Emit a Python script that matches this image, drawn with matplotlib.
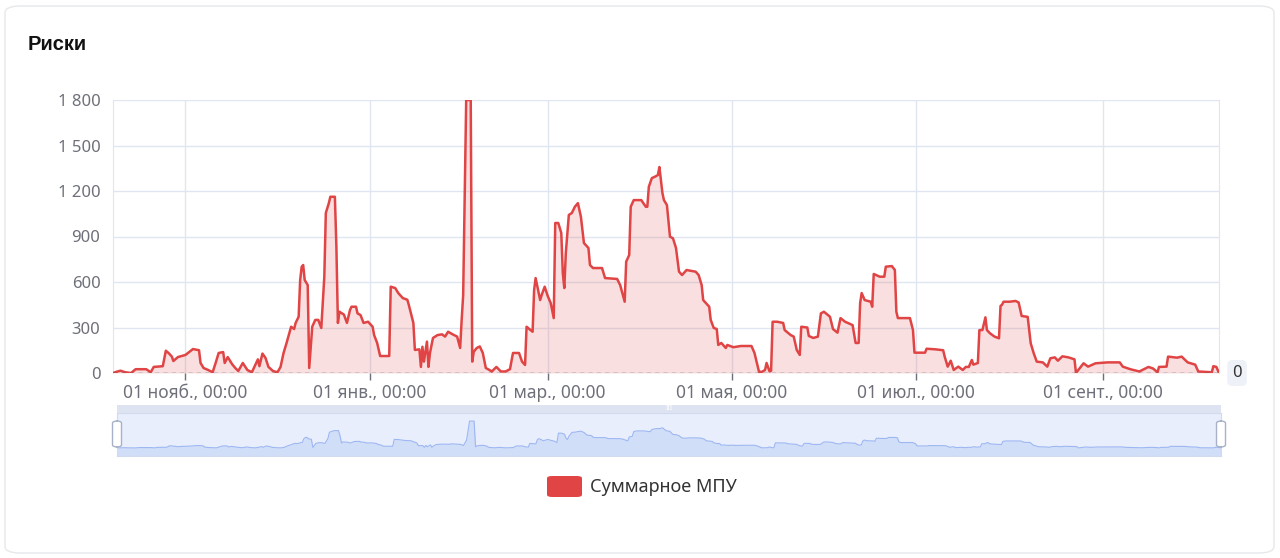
import numpy as np
import pandas as pd
import matplotlib
matplotlib.use('Agg')
import matplotlib.pyplot as plt
import matplotlib.dates as mdates
from matplotlib.patches import FancyBboxPatch
from matplotlib.ticker import FuncFormatter, MultipleLocator

plt.rcParams['font.family'] = ['Noto Sans', 'DejaVu Sans']

# --- data ---
dates = [
    '2024-10-08', '2024-10-09 12:00', '2024-10-10 12:00', '2024-10-12', '2024-10-14',
    '2024-10-15 12:00', '2024-10-19', '2024-10-20 12:00', '2024-10-21 12:00', '2024-10-24 12:00',
    '2024-10-25 12:00', '2024-10-26 12:00', '2024-10-27 12:00', '2024-10-28', '2024-10-29 12:00',
    '2024-11-01', '2024-11-03 12:00', '2024-11-05 12:00', '2024-11-06', '2024-11-07',
    '2024-11-08 12:00', '2024-11-10', '2024-11-11', '2024-11-12', '2024-11-13 12:00',
    '2024-11-14', '2024-11-15', '2024-11-16 12:00', '2024-11-17 12:00', '2024-11-18 12:00',
    '2024-11-20', '2024-11-21 12:00', '2024-11-23', '2024-11-25', '2024-11-25 12:00',
    '2024-11-26 12:00', '2024-11-27 12:00', '2024-11-28 12:00', '2024-11-30', '2024-12-01 12:00',
    '2024-12-02 12:00', '2024-12-03 12:00', '2024-12-04 12:00', '2024-12-06', '2024-12-07',
    '2024-12-07 12:00', '2024-12-08 12:00', '2024-12-09', '2024-12-09 12:00', '2024-12-10',
    '2024-12-10 12:00', '2024-12-11 12:00', '2024-12-12', '2024-12-13', '2024-12-14',
    '2024-12-15', '2024-12-16', '2024-12-17', '2024-12-17 12:00', '2024-12-18 12:00',
    '2024-12-19', '2024-12-20 12:00', '2024-12-21', '2024-12-21 12:00', '2024-12-22',
    '2024-12-23 12:00', '2024-12-24 12:00', '2024-12-25 12:00', '2024-12-26', '2024-12-27 12:00',
    '2024-12-28', '2024-12-29', '2024-12-30', '2024-12-31 12:00', '2025-01-02',
    '2025-01-02 12:00', '2025-01-03 12:00', '2025-01-04 12:00', '2025-01-07 12:00', '2025-01-08',
    '2025-01-09 12:00', '2025-01-10 12:00', '2025-01-12', '2025-01-13 12:00', '2025-01-14',
    '2025-01-15', '2025-01-15 12:00', '2025-01-16', '2025-01-17 12:00', '2025-01-18',
    '2025-01-18 12:00', '2025-01-19', '2025-01-20', '2025-01-20 12:00', '2025-01-21',
    '2025-01-22', '2025-01-23 12:00', '2025-01-25', '2025-01-26', '2025-01-27',
    '2025-01-28 12:00', '2025-01-30', '2025-01-31', '2025-01-31 12:00', '2025-02-01',
    '2025-02-02', '2025-02-03 12:00', '2025-02-04', '2025-02-04 12:00', '2025-02-05 12:00',
    '2025-02-06 12:00', '2025-02-07 12:00', '2025-02-08 12:00', '2025-02-09 12:00', '2025-02-10 12:00',
    '2025-02-12', '2025-02-13 12:00', '2025-02-15', '2025-02-16 12:00', '2025-02-17 12:00',
    '2025-02-19 12:00', '2025-02-20 12:00', '2025-02-21 12:00', '2025-02-22', '2025-02-24',
    '2025-02-24 12:00', '2025-02-25', '2025-02-26 12:00', '2025-02-27', '2025-02-28',
    '2025-03-01', '2025-03-02', '2025-03-03', '2025-03-03 12:00', '2025-03-04 12:00',
    '2025-03-05 12:00', '2025-03-06', '2025-03-06 12:00', '2025-03-07', '2025-03-08',
    '2025-03-09', '2025-03-10', '2025-03-11', '2025-03-12', '2025-03-13',
    '2025-03-14 12:00', '2025-03-15', '2025-03-16', '2025-03-19', '2025-03-20',
    '2025-03-24', '2025-03-25', '2025-03-26 12:00', '2025-03-27', '2025-03-28',
    '2025-03-28 12:00', '2025-03-29 12:00', '2025-04-01', '2025-04-02 12:00', '2025-04-03',
    '2025-04-03 12:00', '2025-04-04 12:00', '2025-04-05 12:00', '2025-04-06 12:00', '2025-04-07',
    '2025-04-08', '2025-04-08 12:00', '2025-04-09 12:00', '2025-04-10 12:00', '2025-04-11 12:00',
    '2025-04-12 12:00', '2025-04-13 12:00', '2025-04-14 12:00', '2025-04-16', '2025-04-19',
    '2025-04-20', '2025-04-21', '2025-04-21 12:00', '2025-04-23 12:00', '2025-04-24',
    '2025-04-25', '2025-04-26', '2025-04-26 12:00', '2025-04-27 12:00', '2025-04-29',
    '2025-04-29 12:00', '2025-05-01 12:00', '2025-05-04', '2025-05-07 12:00', '2025-05-08 12:00',
    '2025-05-10', '2025-05-11', '2025-05-12', '2025-05-12 12:00', '2025-05-13 12:00',
    '2025-05-14', '2025-05-14 12:00', '2025-05-16', '2025-05-18', '2025-05-18 12:00',
    '2025-05-20 12:00', '2025-05-21 12:00', '2025-05-22 12:00', '2025-05-23 12:00', '2025-05-24',
    '2025-05-26', '2025-05-26 12:00', '2025-05-28', '2025-05-29 12:00', '2025-05-30 12:00',
    '2025-05-31 12:00', '2025-06-02 12:00', '2025-06-03 12:00', '2025-06-05', '2025-06-06',
    '2025-06-07 12:00', '2025-06-10', '2025-06-11', '2025-06-12', '2025-06-12 12:00',
    '2025-06-13', '2025-06-14', '2025-06-16', '2025-06-16 12:00', '2025-06-17',
    '2025-06-19', '2025-06-20 12:00', '2025-06-21', '2025-06-23', '2025-06-24',
    '2025-06-24 12:00', '2025-06-25', '2025-06-29', '2025-06-30', '2025-06-30 12:00',
    '2025-07-04', '2025-07-04 12:00', '2025-07-07 12:00', '2025-07-10', '2025-07-10 12:00',
    '2025-07-11 12:00', '2025-07-12 12:00', '2025-07-13 12:00', '2025-07-15', '2025-07-16 12:00',
    '2025-07-17 12:00', '2025-07-18 12:00', '2025-07-19 12:00', '2025-07-20', '2025-07-21 12:00',
    '2025-07-22', '2025-07-23', '2025-07-24', '2025-07-24 12:00', '2025-07-25 12:00',
    '2025-07-27', '2025-07-28 12:00', '2025-07-29', '2025-07-29 12:00', '2025-07-30',
    '2025-08-01', '2025-08-03', '2025-08-04', '2025-08-05', '2025-08-07',
    '2025-08-08', '2025-08-09', '2025-08-10', '2025-08-12', '2025-08-13 12:00',
    '2025-08-14 12:00', '2025-08-16', '2025-08-17', '2025-08-18 12:00', '2025-08-20 12:00',
    '2025-08-22 12:00', '2025-08-23', '2025-08-25 12:00', '2025-08-27', '2025-08-29 12:00',
    '2025-09-02 12:00', '2025-09-06 12:00', '2025-09-07 12:00', '2025-09-10', '2025-09-13',
    '2025-09-16', '2025-09-17 12:00', '2025-09-19', '2025-09-19 12:00', '2025-09-22',
    '2025-09-22 12:00', '2025-09-25 12:00', '2025-09-27', '2025-09-29', '2025-10-01 12:00',
    '2025-10-02 12:00', '2025-10-07', '2025-10-07 12:00', '2025-10-08 12:00', '2025-10-09 09:00',
]
mpu = [
    0, 10, 15, 5, 0,
    25, 25, 5, 40, 45,
    147, 130, 108, 79, 105,
    119, 158, 150, 66, 33,
    20, 5, 66, 132, 138,
    66, 105, 57, 33, 13,
    66, 20, 5, 90, 45,
    128, 100, 40, 13, 5,
    40, 132, 198, 305, 290,
    330, 371, 613, 700, 712,
    613, 580, 33, 305, 350,
    350, 297, 635, 1055, 1120,
    1162, 1162, 833, 330, 404,
    385, 330, 415, 437, 437,
    393, 382, 330, 338, 305,
    250, 198, 112, 112, 569,
    560, 527, 494, 483, 448,
    371, 330, 152, 156, 40,
    173, 75, 207, 40, 132,
    231, 250, 255, 240, 272,
    255, 240, 165, 350, 514,
    1800, 1800, 75, 140, 165,
    175, 132, 33, 22, 10,
    40, 10, 10, 25, 132,
    132, 75, 53, 305, 272,
    547, 626, 481, 514, 569,
    508, 461, 362, 989, 989,
    923, 659, 560, 791, 1042,
    1055, 1096, 1120, 1030, 857,
    824, 712, 692, 692, 626,
    620, 580, 470, 734, 778,
    1096, 1140, 1140, 1096, 1096,
    1228, 1285, 1294, 1305, 1358,
    1187, 1140, 1107, 899, 888,
    824, 668, 646, 679, 668,
    646, 580, 481, 437, 350,
    297, 290, 185, 198, 165,
    185, 170, 178, 178, 132,
    8, 8, 20, 66, 10,
    15, 338, 338, 330, 283,
    250, 240, 152, 119, 305,
    300, 244, 231, 240, 393,
    404, 371, 290, 266, 362,
    338, 316, 198, 198, 461,
    527, 481, 470, 437, 653,
    635, 635, 701, 705, 679,
    404, 362, 362, 283, 134,
    134, 160, 156, 150, 108,
    42, 81, 20, 42, 20,
    40, 40, 86, 55, 66,
    283, 283, 367, 283, 262,
    240, 229, 442, 450, 470,
    470, 475, 465, 376, 370,
    196, 130, 75, 70, 42,
    97, 103, 81, 110, 103,
    90, 0, 64, 42, 64,
    70, 70, 42, 25, 10,
    40, 30, 5, 40, 42,
    108, 101, 108, 70, 55,
    10, 5, 45, 40, 0,
]
title = 'Риски'
series_name = 'Суммарное МПУ'
month_ru = {1: 'янв.', 2: 'февр.', 3: 'мар.', 4: 'апр.', 5: 'мая', 6: 'июн.',
            7: 'июл.', 8: 'авг.', 9: 'сент.', 10: 'окт.', 11: 'нояб.', 12: 'дек.'}

x = pd.to_datetime(dates, format='mixed')
y = np.array(mpu, dtype=float)

red = '#e04444'
grid_c = '#e0e6f1'
label_c = '#6e7079'

fig = plt.figure(figsize=(12.8, 5.58), dpi=100)
fig.patch.set_facecolor('white')

# card border
card = FancyBboxPatch((5 / 1280, 5 / 558), 1269 / 1280, 547 / 558,
                      boxstyle='round,pad=0,rounding_size=0.012',
                      transform=fig.transFigure, facecolor='none',
                      edgecolor='#e6e8ec', linewidth=1.0, zorder=-5)
fig.patches.append(card)
fig.text(28 / 1280, 1 - 45 / 558, title, fontsize=14.5, fontweight='bold',
         family=['Liberation Sans', 'DejaVu Sans'], color='#111111', va='center')

# main axes
ax = fig.add_axes([113 / 1280, 1 - 373 / 558, 1106 / 1280, 273 / 558])
ax.plot(x, y, color=red, lw=1.8, zorder=3)
ax.fill_between(x, y, 0, color=red, alpha=0.17, lw=0, zorder=2)
ax.set_xlim(x[0], x[-1])
ax.set_ylim(0, 1800)
ax.yaxis.set_major_locator(MultipleLocator(300))
ax.yaxis.set_major_formatter(FuncFormatter(lambda v, p: f'{int(v):,}'.replace(',', ' ')))
ax.xaxis.set_major_locator(mdates.MonthLocator(bymonth=[1, 3, 5, 7, 9, 11]))
ax.xaxis.set_major_formatter(FuncFormatter(
    lambda v, p: (lambda d: f'{d.day:02d} {month_ru[d.month]}, {d:%H:%M}')(mdates.num2date(v))))
ax.grid(True, color=grid_c, lw=1)
ax.set_axisbelow(True)
for s in ['top', 'bottom']:
    ax.spines[s].set_visible(False)
for s in ['left', 'right']:
    ax.spines[s].set_color(grid_c)
ax.axhline(0, color='#555a66', lw=1, ls=(0, (3, 3)), zorder=4)
ax.tick_params(axis='y', length=0, pad=9, labelsize=12, labelcolor=label_c)
ax.tick_params(axis='x', length=5, width=1, color='#6e7079', pad=3, labelsize=12.5, labelcolor=label_c)

# end label
ax.annotate(f'{y[-1]:.0f}', xy=(1.0, 0), xycoords=('axes fraction', 'data'),
            xytext=(13, 0), textcoords='offset points', ha='center', va='center',
            fontsize=12, color='#333333',
            bbox=dict(boxstyle='round,pad=0.3,rounding_size=0.3', fc='#eef2f8', ec='none'))

# data zoom slider
sl = fig.add_axes([117 / 1280, 1 - 456 / 558, 1104 / 1280, 43 / 558])
sl.set_facecolor('#e8eefc')
lo, hi = y.min(), y.max()
off = (hi - lo) * 0.3
sl.plot(x, y, color='#9db7f3', lw=0.8)
sl.fill_between(x, y, lo - off, color='#ccdaf8', lw=0, alpha=0.8)
sl.set_xlim(x[0], x[-1])
sl.set_ylim(lo - off, hi + off)
sl.set_xticks([])
sl.set_yticks([])
for s in sl.spines.values():
    s.set_color('#d2dbee')
topbar = fig.add_axes([117 / 1280, 1 - 413 / 558, 1104 / 1280, 8 / 558])
topbar.set_facecolor('#dde3f1')
topbar.set_xticks([])
topbar.set_yticks([])
for s in topbar.spines.values():
    s.set_visible(False)
topbar.text(0.5, 0.5, 'III', ha='center', va='center', fontsize=5, color='white',
            fontweight='bold', transform=topbar.transAxes)
for hx in (117, 1221):
    h = FancyBboxPatch(((hx - 4.5) / 1280, 1 - 447 / 558), 9 / 1280, 26 / 558,
                       boxstyle='round,pad=0,rounding_size=0.004',
                       transform=fig.transFigure, facecolor='white',
                       edgecolor='#a7b2c8', linewidth=1.0, zorder=10)
    fig.patches.append(h)

# legend
lg = FancyBboxPatch((547 / 1280, 1 - 497 / 558), 35 / 1280, 21 / 558,
                    boxstyle='round,pad=0,rounding_size=0.004',
                    transform=fig.transFigure, facecolor=red, edgecolor='none')
fig.patches.append(lg)
fig.text(590 / 1280, 1 - 487 / 558, series_name, fontsize=13, color='#333333', va='center')

fig.savefig('out.png', dpi=100)
